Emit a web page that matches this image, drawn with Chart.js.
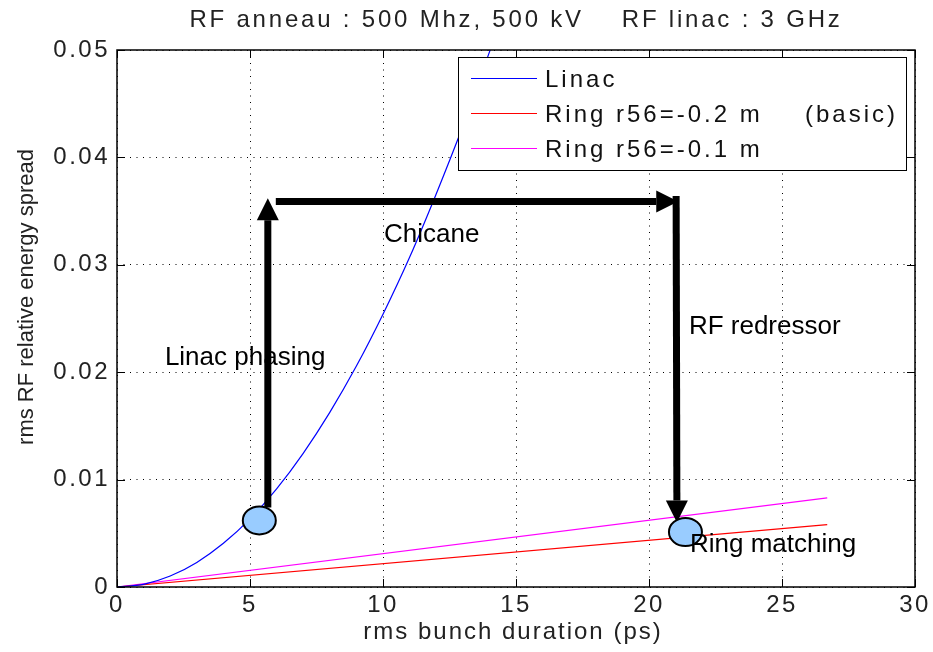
<!DOCTYPE html>
<html>
<head>
<meta charset="utf-8">
<script src="https://cdn.jsdelivr.net/npm/chart.js@4.4.0/dist/chart.umd.min.js"></script>
<style>
body { margin: 0; background: #fff; }
#wrap { width: 933px; height: 652px; }
</style>
</head>
<body>
<div id="wrap"><canvas id="bunchChart" width="933" height="652"></canvas></div>
<script>
// values
const linacX = [0, 1, 2, 3, 4, 5, 6, 7, 8, 9, 10, 11, 12, 13, 14, 14.2];
const linacY = [0, 0.00025, 0.00102, 0.00229, 0.00407, 0.00635, 0.00914, 0.01245, 0.01626, 0.02057, 0.0254, 0.0307, 0.0366, 0.0429, 0.0498, 0.0512];
const ring02X = [0, 26.7];
const ring02Y = [0, 0.0058];
const ring01X = [0, 26.7];
const ring01Y = [0, 0.0083];

const xTicks = [0, 5, 10, 15, 20, 25, 30];
const yTicks = [0, 0.01, 0.02, 0.03, 0.04, 0.05];
const seriesLabels = ['Linac', 'Ring r56=-0.2 m', 'Ring r56=-0.1 m'];
const seriesNotes = ['', '(basic)', ''];
const seriesColors = ['#0000ff', '#ff0000', '#ff00ff'];

const titleText = 'RF anneau : 500 Mhz, 500 kV    RF linac : 3 GHz';
const xTitle = 'rms bunch duration (ps)';
const yTitle = 'rms RF relative energy spread';

// drawn-on annotations, in data units
const arrows = [
    { from: [5.67, 0.0074], to: [5.67, 0.0362] },
    { from: [5.97, 0.0359], to: [21.1, 0.0359] },
    { from: [21.02, 0.0364], to: [21.05, 0.0060] }
];
const blobs = [[5.35, 0.0062], [21.37, 0.00512]];
const notes = [
    { text: 'Linac phasing', x: 1.8, y: 0.0207 },
    { text: 'Chicane', x: 10.04, y: 0.0321 },
    { text: 'RF redressor', x: 21.5, y: 0.0236 },
    { text: 'Ring matching', x: 21.54, y: 0.00326 }
];

function toPoints(xs, ys) {
    return xs.map((x, i) => ({ x: x, y: ys[i] }));
}

const FONT = "'Liberation Sans', Arial, sans-serif";

function drawArrow(ctx, x1, y1, x2, y2) {
    const head = 22, half = 11;
    const ang = Math.atan2(y2 - y1, x2 - x1);
    const bx = x2 - head * Math.cos(ang), by = y2 - head * Math.sin(ang);
    ctx.strokeStyle = '#000';
    ctx.lineWidth = 7;
    ctx.lineCap = 'butt';
    ctx.beginPath();
    ctx.moveTo(x1, y1);
    ctx.lineTo(bx, by);
    ctx.stroke();
    ctx.fillStyle = '#000';
    ctx.beginPath();
    ctx.moveTo(x2, y2);
    ctx.lineTo(bx + half * Math.sin(ang), by - half * Math.cos(ang));
    ctx.lineTo(bx - half * Math.sin(ang), by + half * Math.cos(ang));
    ctx.closePath();
    ctx.fill();
}

const matlabLook = {
    id: 'matlabLook',
    beforeDraw(chart) {
        chart.ctx.letterSpacing = '2.5px';
    },
    afterDraw(chart) {
        const ctx = chart.ctx;
        const a = chart.chartArea;
        const xs = chart.scales.x, ys = chart.scales.y;
        ctx.save();

        // box and inward ticks
        ctx.strokeStyle = '#000';
        ctx.lineWidth = 1.5;
        ctx.strokeRect(a.left, a.top, a.right - a.left, a.bottom - a.top);
        ctx.lineWidth = 1;
        ctx.beginPath();
        xTicks.forEach(v => {
            const p = Math.round(xs.getPixelForValue(v)) + 0.5;
            ctx.moveTo(p, a.bottom); ctx.lineTo(p, a.bottom - 8);
            ctx.moveTo(p, a.top); ctx.lineTo(p, a.top + 8);
        });
        yTicks.forEach(v => {
            const p = Math.round(ys.getPixelForValue(v)) + 0.5;
            ctx.moveTo(a.left, p); ctx.lineTo(a.left + 8, p);
            ctx.moveTo(a.right, p); ctx.lineTo(a.right - 8, p);
        });
        ctx.stroke();

        // legend
        const lx = a.right - 9, lt = a.top + 7;
        const bx = 458, bw = lx - bx, bh = 113;
        ctx.fillStyle = '#fff';
        ctx.fillRect(bx, lt, bw, bh);
        ctx.strokeStyle = '#000';
        ctx.lineWidth = 1;
        ctx.strokeRect(bx + 0.5, lt + 0.5, bw, bh);
        ctx.font = '24px ' + FONT;
        ctx.letterSpacing = '3px';
        ctx.textAlign = 'left';
        ctx.textBaseline = 'alphabetic';
        seriesLabels.forEach((lab, i) => {
            const ly = lt + 21 + i * 35;
            ctx.strokeStyle = seriesColors[i];
            ctx.lineWidth = 1.2;
            ctx.beginPath();
            ctx.moveTo(bx + 13, ly + 0.5);
            ctx.lineTo(bx + 79, ly + 0.5);
            ctx.stroke();
            ctx.fillStyle = '#111';
            ctx.fillText(lab, bx + 87, ly + 8.5);
            if (seriesNotes[i]) ctx.fillText(seriesNotes[i], bx + 347, ly + 8.5);
        });

        // arrows, blobs, notes
        arrows.forEach(ar => {
            drawArrow(ctx,
                xs.getPixelForValue(ar.from[0]), ys.getPixelForValue(ar.from[1]),
                xs.getPixelForValue(ar.to[0]), ys.getPixelForValue(ar.to[1]));
        });
        blobs.forEach(b => {
            ctx.beginPath();
            ctx.ellipse(xs.getPixelForValue(b[0]), ys.getPixelForValue(b[1]), 16.5, 14, 0, 0, Math.PI * 2);
            ctx.fillStyle = '#99ccff';
            ctx.fill();
            ctx.strokeStyle = '#000';
            ctx.lineWidth = 2;
            ctx.stroke();
        });
        ctx.letterSpacing = '0px';
        ctx.font = '26px Arial, ' + FONT;
        ctx.fillStyle = '#000';
        notes.forEach(n => {
            ctx.fillText(n.text, xs.getPixelForValue(n.x), ys.getPixelForValue(n.y));
        });

        // title and axis titles
        const cx = (a.left + a.right) / 2;
        ctx.fillStyle = '#222';
        ctx.font = '24px ' + FONT;
        ctx.letterSpacing = '2.8px';
        ctx.textAlign = 'center';
        ctx.fillText(titleText, cx, 27);
        ctx.letterSpacing = '2px';
        ctx.fillText(xTitle, cx - 3, 639);
        ctx.letterSpacing = '0px';
        ctx.font = '22px ' + FONT;
        ctx.translate(33, 297);
        ctx.rotate(-Math.PI / 2);
        ctx.fillText(yTitle, 0, 0);
        ctx.restore();
    }
};

const ctx = document.getElementById('bunchChart').getContext('2d');
const bunchChart = new Chart(ctx, {
    type: 'scatter',
    data: {
        datasets: [
            { label: seriesLabels[0], data: toPoints(linacX, linacY), borderColor: seriesColors[0], cubicInterpolationMode: 'monotone' },
            { label: seriesLabels[1], data: toPoints(ring02X, ring02Y), borderColor: seriesColors[1] },
            { label: seriesLabels[2], data: toPoints(ring01X, ring01Y), borderColor: seriesColors[2] }
        ]
    },
    options: {
        responsive: false,
        animation: false,
        showLine: true,
        elements: {
            point: { radius: 0 },
            line: { borderWidth: 1.2, tension: 0 }
        },
        layout: { autoPadding: false, padding: { top: 50, right: 18, left: 0, bottom: 0 } },
        plugins: { legend: { display: false }, tooltip: { enabled: false } },
        scales: {
            x: {
                type: 'linear', min: 0, max: 30,
                afterFit: s => { s.height = 65; },
                afterBuildTicks: s => { s.ticks = xTicks.map(v => ({ value: v })); },
                grid: { color: '#000', lineWidth: 1, drawTicks: false },
                border: { display: false, dash: [1, 5.5] },
                ticks: { color: '#222', padding: 4, maxRotation: 0, font: { family: FONT, size: 24 }, callback: v => String(v) }
            },
            y: {
                type: 'linear', min: 0, max: 0.05,
                afterFit: s => { s.width = 117; },
                afterBuildTicks: s => { s.ticks = yTicks.map(v => ({ value: v })); },
                grid: { color: '#000', lineWidth: 1, drawTicks: false },
                border: { display: false, dash: [1, 5.5] },
                ticks: { color: '#222', padding: 7, font: { family: FONT, size: 24 }, callback: v => String(v) }
            }
        }
    },
    plugins: [matlabLook]
});
</script>
</body>
</html>
